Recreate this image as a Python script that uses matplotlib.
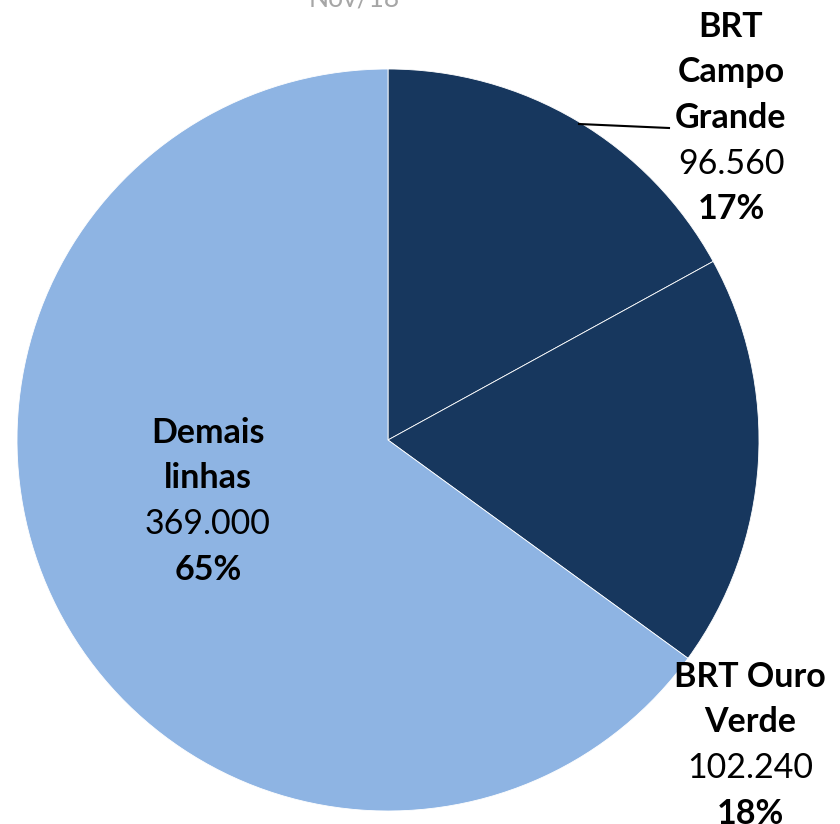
import matplotlib.pyplot as plt

# data
names = ["BRT Campo Grande", "BRT Ouro Verde", "Demais linhas"]
values = [96560, 102240, 369000]
value_labels = ["96.560", "102.240", "369.000"]
colors = ["#17375E", "#17375E", "#8EB4E3"]

plt.rcParams['font.family'] = ['Lato', 'DejaVu Sans']

W, H = 840, 824
cx, cy, R = 388, 440, 371  # pixel centre / radius

fig = plt.figure(figsize=(W / 100, H / 100), dpi=100)
ax = fig.add_axes([0, 0, 1, 1])
ax.pie(values, colors=colors, startangle=90, counterclock=False, radius=1,
       wedgeprops=dict(edgecolor="white", linewidth=0.6))
ax.set_xlim(-cx / R, (W - cx) / R)
ax.set_ylim(-(H - cy) / R, cy / R)
ax.set_aspect("auto")
ax.axis("off")


def px(x, y):
    # pixel coords (origin top-left) -> data coords
    return (x - cx) / R, (cy - y) / R


def block(x, y0, lines, total, pct, step=45.5):
    y = y0
    for ln in lines:
        ax.text(*px(x, y), ln, ha="center", va="center", fontsize=24.5, fontweight="bold")
        y += step
    ax.text(*px(x, y), total, ha="center", va="center", fontsize=24.5)
    y += step
    ax.text(*px(x, y), pct, ha="center", va="center", fontsize=24.5, fontweight="bold")


tot = sum(values)
pcts = ["%d%%" % round(v * 100 / tot) for v in values]

block(731, 27, ["BRT", "Campo", "Grande"], value_labels[0], pcts[0])
block(750, 677, ["BRT Ouro", "Verde"], value_labels[1], pcts[1])
block(208, 433, ["Demais", "linhas"], value_labels[2], pcts[2])

# leader line for BRT Campo Grande
x0, y0 = px(579, 124)
x1, y1 = px(669, 128)
ax.plot([x0, x1], [y0, y1], color="black", linewidth=1.5)

ax.text(*px(354, 7), "Nov/18", ha="center", va="baseline", fontsize=19, color="#A6A6A6")

fig.savefig("out.png", dpi=100)
